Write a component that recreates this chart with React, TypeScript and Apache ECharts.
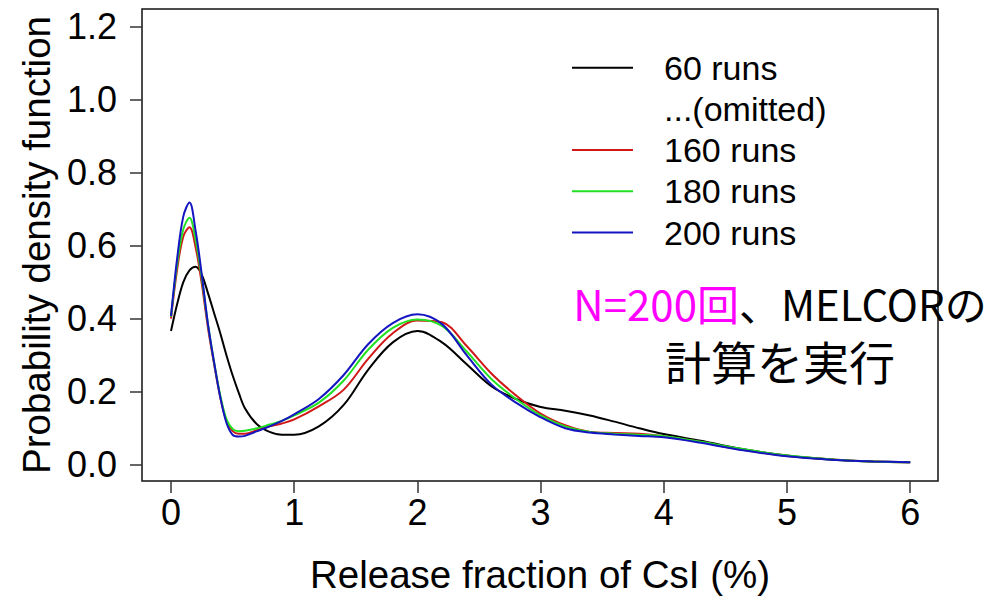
import React, { useEffect, useRef } from "react";
import * as echarts from "echarts";

// Shared x positions (Release fraction of CsI, %)
const xs = [0, 0.05, 0.1, 0.15, 0.2, 0.25, 0.3, 0.35, 0.4, 0.45, 0.5, 0.55, 0.6, 0.7, 0.8, 0.9, 1.0, 1.2, 1.4, 1.6, 1.8, 2.0, 2.2, 2.4, 2.6, 2.8, 3.0, 3.2, 3.4, 3.6, 3.8, 4.0, 4.3, 4.6, 5.0, 5.4, 5.7, 6.0];

const runs60 = [0.366, 0.44, 0.5, 0.532, 0.542, 0.52, 0.47, 0.415, 0.36, 0.3, 0.245, 0.197, 0.155, 0.11, 0.09, 0.082, 0.082, 0.105, 0.163, 0.26, 0.335, 0.366, 0.335, 0.275, 0.215, 0.18, 0.158, 0.148, 0.135, 0.118, 0.1, 0.084, 0.066, 0.045, 0.025, 0.013, 0.009, 0.0066];
const runs160 = [0.4, 0.535, 0.625, 0.65, 0.595, 0.495, 0.375, 0.275, 0.185, 0.12, 0.092, 0.085, 0.085, 0.095, 0.105, 0.113, 0.124, 0.16, 0.205, 0.29, 0.36, 0.395, 0.39, 0.325, 0.25, 0.19, 0.14, 0.108, 0.09, 0.087, 0.085, 0.078, 0.062, 0.043, 0.024, 0.014, 0.009, 0.0066];
const runs180 = [0.405, 0.55, 0.645, 0.676, 0.615, 0.51, 0.385, 0.28, 0.19, 0.125, 0.098, 0.092, 0.093, 0.1, 0.11, 0.12, 0.135, 0.17, 0.23, 0.315, 0.375, 0.398, 0.38, 0.31, 0.235, 0.18, 0.135, 0.105, 0.09, 0.085, 0.082, 0.078, 0.063, 0.045, 0.025, 0.014, 0.009, 0.0066];
const runs200 = [0.407, 0.565, 0.68, 0.718, 0.64, 0.52, 0.385, 0.28, 0.185, 0.115, 0.082, 0.077, 0.079, 0.092, 0.105, 0.12, 0.138, 0.18, 0.245, 0.33, 0.388, 0.412, 0.385, 0.3, 0.22, 0.17, 0.13, 0.1, 0.088, 0.083, 0.079, 0.075, 0.06, 0.042, 0.023, 0.013, 0.009, 0.0066];

const seriesNames = ["60 runs", "160 runs", "180 runs", "200 runs"];
const seriesColors = ["#000000", "#d01818", "#22e022", "#1414c0"];
const seriesValues = [runs60, runs160, runs180, runs200];

const xTicks = [0, 1, 2, 3, 4, 5, 6];
const yTicks = [0, 0.2, 0.4, 0.6, 0.8, 1.0, 1.2];

const legendRows = ["60 runs", "...(omitted)", "160 runs", "180 runs", "200 runs"];
const legendColors = ["#000000", null, "#d01818", "#22e022", "#1414c0"];

const xTitle = "Release fraction of CsI (%)";
const yTitle = "Probability density function";

const FONT = "'Liberation Sans', Arial, sans-serif";
const JP = "'Noto Sans CJK JP', sans-serif";

export default function App() {
  const ref = useRef<HTMLDivElement>(null);
  useEffect(() => {
    if (!ref.current) return;
    const chart = echarts.init(ref.current, undefined, { renderer: "svg" });

    const legendGraphics: any[] = [];
    legendRows.forEach((label, i) => {
      const y = 67.7 + i * 41.2;
      const c = legendColors[i];
      if (c) {
        legendGraphics.push({
          type: "line",
          shape: { x1: 572, y1: y, x2: 633, y2: y },
          style: { stroke: c, lineWidth: 2 },
        });
      }
      legendGraphics.push({
        type: "text",
        x: 664,
        y: y,
        style: {
          text: label,
          fill: "#000",
          font: `34px ${FONT}`,
          textAlign: "left",
          textVerticalAlign: "middle",
        },
      });
    });

    const option: any = {
      animation: false,
      backgroundColor: "#ffffff",
      grid: {
        left: 142,
        right: 66,
        top: 9,
        bottom: 117,
        show: true,
        borderColor: "#111",
        borderWidth: 1.5,
        containLabel: false,
      },
      xAxis: {
        type: "value",
        min: -0.2354,
        max: 6.2256,
        axisLine: { show: false, onZero: false },
        splitLine: { show: false },
        axisTick: {
          show: true,
          customValues: xTicks,
          length: 12,
          lineStyle: { color: "#333", width: 1.5 },
        },
        axisLabel: {
          customValues: xTicks,
          margin: 13,
          fontSize: 36,
          fontFamily: FONT,
          color: "#000",
          formatter: (v: number) => String(Math.round(v)),
        },
        name: xTitle,
        nameLocation: "middle",
        nameGap: 74,
        nameTextStyle: { fontSize: 38.5, fontFamily: FONT, color: "#000" },
      },
      yAxis: {
        type: "value",
        min: -0.0445,
        max: 1.2478,
        axisLine: { show: false, onZero: false },
        splitLine: { show: false },
        axisTick: {
          show: true,
          customValues: yTicks,
          length: 12,
          lineStyle: { color: "#333", width: 1.5 },
        },
        axisLabel: {
          customValues: yTicks,
          margin: 25,
          fontSize: 36,
          fontFamily: FONT,
          color: "#000",
          formatter: (v: number) => v.toFixed(1),
        },
        name: yTitle,
        nameLocation: "middle",
        nameGap: 80,
        nameTextStyle: { fontSize: 38.5, fontFamily: FONT, color: "#000" },
      },
      series: seriesValues.map((vals, i) => ({
        name: seriesNames[i],
        type: "line",
        data: xs.map((x, j) => [x, vals[j]]),
        smooth: 0.35,
        symbol: "none",
        lineStyle: { color: seriesColors[i], width: 2 },
        z: 2 + i,
      })),
      graphic: [
        ...legendGraphics,
        {
          type: "text",
          x: 780,
          y: 331,
          style: {
            text: "{m|N=200回}{k|、MELCORの}\n{b|計算を実行}",
            textAlign: "center",
            textVerticalAlign: "middle",
            font: `42px ${JP}`,
            lineHeight: 58,
            rich: {
              m: { fill: "#ff00ff", fontSize: 42, fontFamily: JP, lineHeight: 58 },
              k: { fill: "#000000", fontSize: 42, fontFamily: JP, lineHeight: 58 },
              b: { fill: "#000000", fontSize: 46, fontFamily: JP, lineHeight: 58 },
            },
          },
          z: 10,
        },
      ],
    };
    chart.setOption(option);
    return () => chart.dispose();
  }, []);
  return (
    <div
      ref={ref}
      style={{ position: "fixed", left: 0, top: 0, width: 1004, height: 599, background: "#fff" }}
    />
  );
}
